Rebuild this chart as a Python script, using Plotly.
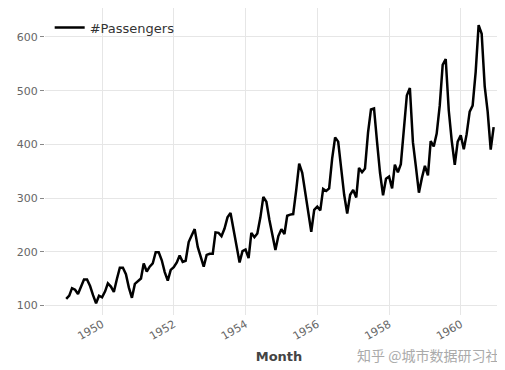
import plotly.graph_objects as go
import pandas as pd

passengers = [
    112, 118, 132, 129, 121, 135, 148, 148, 136, 119, 104, 118,
    115, 126, 141, 135, 125, 149, 170, 170, 158, 133, 114, 140,
    145, 150, 178, 163, 172, 178, 199, 199, 184, 162, 146, 166,
    171, 180, 193, 181, 183, 218, 230, 242, 209, 191, 172, 194,
    196, 196, 236, 235, 229, 243, 264, 272, 237, 211, 180, 201,
    204, 188, 235, 227, 234, 264, 302, 293, 259, 229, 203, 229,
    242, 233, 267, 269, 270, 315, 364, 347, 312, 274, 237, 278,
    284, 277, 317, 313, 318, 374, 413, 405, 355, 306, 271, 306,
    315, 301, 356, 348, 355, 422, 465, 467, 404, 347, 305, 336,
    340, 318, 362, 348, 363, 435, 491, 505, 404, 359, 310, 337,
    360, 342, 406, 396, 420, 472, 548, 559, 463, 407, 362, 405,
    417, 391, 419, 461, 472, 535, 622, 606, 508, 461, 390, 432,
]
months = pd.date_range("1949-01-01", periods=len(passengers), freq="MS")
x_ticks = ["1950-01-01", "1952-01-01", "1954-01-01", "1956-01-01", "1958-01-01", "1960-01-01"]
x_tick_labels = ["1950", "1952", "1954", "1956", "1958", "1960"]
y_ticks = [100, 200, 300, 400, 500, 600]

fig = go.Figure()
fig.add_trace(go.Scatter(x=months, y=passengers, mode="lines", name="#Passengers",
                         line=dict(color="black", width=2.5)))

fig.update_layout(
    width=505, height=370,
    margin=dict(l=37, r=0, t=0, b=63, autoexpand=False),
    plot_bgcolor="white", paper_bgcolor="white",
    font=dict(family="DejaVu Sans", color="#666666", size=11),
    showlegend=True,
    legend=dict(x=0.01, y=0.985, xanchor="left", yanchor="top",
                bgcolor="rgba(0,0,0,0)", font=dict(size=13, color="#333333")),
    xaxis=dict(
        range=["1948-05-30", "1961-06-16"], automargin=False,
        tickvals=x_ticks, ticktext=x_tick_labels, tickangle=-30,
        showgrid=True, gridcolor="#e6e6e6", gridwidth=1,
        zeroline=False, showline=False, ticks="",
        title=dict(text="<b>Month</b>", font=dict(size=13, color="#444444"), standoff=10),
    ),
    yaxis=dict(
        range=[82, 654], tickvals=y_ticks, automargin=False,
        showgrid=True, gridcolor="#e6e6e6", gridwidth=1,
        zeroline=False, showline=False,
        ticks="outside", ticklen=4, tickcolor="#888888",
    ),
)

fig.add_annotation(text="知乎 @城市数据研习社", xref="paper", yref="paper",
                   x=0.975, y=-0.13, xanchor="right", yanchor="middle",
                   showarrow=False,
                   font=dict(family="Noto Sans CJK SC", size=14, color="#aaaaaa"))

fig.write_html("out.html")
